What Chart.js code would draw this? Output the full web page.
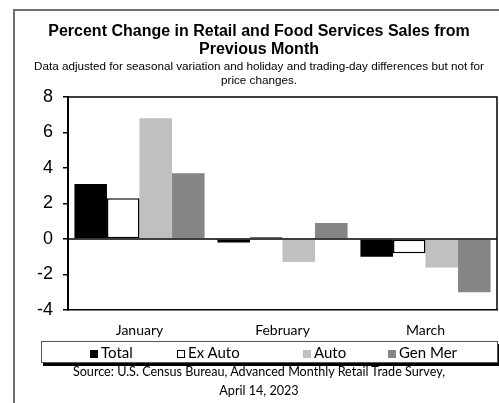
<!DOCTYPE html>
<html>
<head>
<meta charset="utf-8">
<script src="https://cdn.jsdelivr.net/npm/chart.js@4.4.1/dist/chart.umd.min.js"></script>
<style>
  html, body { margin: 0; padding: 0; background: #fff; }
  body { width: 499px; height: 403px; position: relative; overflow: hidden; }
  #frame { position: absolute; left: 13px; top: 9px; width: 500px; height: 400px;
           border-left: 2px solid #707070; border-top: 2px solid #707070; }
  #chartWrap { position: absolute; left: 0; top: 0; width: 499px; height: 403px; }
  .txt { position: absolute; left: 0; width: 518px; text-align: center; white-space: nowrap; color: #000; }
  #title { top: 22px; font: bold 16px "Liberation Sans", Arial, sans-serif; line-height: 18px; }
  #subtitle { top: 59px; font: 11.7px "Liberation Sans", Arial, sans-serif; line-height: 14px; }
  #source { top: 362px; font: 12.6px Lato, sans-serif; line-height: 19px; }
  #legend { position: absolute; left: 41px; top: 341px; width: 455px; height: 20px;
            border: 1px solid #555; box-shadow: 2px 3px 0 #000; background: #fff; }
  .li { position: absolute; top: 0; height: 20px; font: 15px Lato, sans-serif; line-height: 20px; white-space: nowrap; }
  .sw { display: inline-block; width: 8px; height: 8px; margin-right: 3px; vertical-align: 0px; box-sizing: border-box; }
</style>
</head>
<body>
<div id="frame"></div>
<div id="chartWrap"><canvas id="c" width="499" height="403"></canvas></div>
<div id="title" class="txt">Percent Change in Retail and Food Services Sales from<br>Previous Month</div>
<div id="subtitle" class="txt">Data adjusted for seasonal variation and holiday and trading-day differences but not for<br>price changes.</div>
<div id="legend"></div>
<div id="source" class="txt">Source: U.S. Census Bureau, Advanced Monthly Retail Trade Survey,<br>April 14, 2023</div>
<script>
const categories = ['January', 'February', 'March'];
const seriesNames = ['Total', 'Ex Auto', 'Auto', 'Gen Mer'];
const totalValues = [3.1, -0.2, -1.0];
const exAutoValues = [2.3, 0.1, -0.8];
const autoValues = [6.8, -1.3, -1.6];
const genMerValues = [3.7, 0.9, -3.0];
const yTicks = [-4, -2, 0, 2, 4, 6, 8];

const seriesValues = [totalValues, exAutoValues, autoValues, genMerValues];
const fills = ['#000000', '#ffffff', '#c0c0c0', '#858585'];
const borders = [0, 1.5, 0, 0];

const datasets = seriesNames.map((name, i) => ({
  label: name,
  data: seriesValues[i],
  backgroundColor: fills[i],
  borderColor: '#000',
  borderWidth: borders[i],
  borderSkipped: false,
  categoryPercentage: 0.91,
  barPercentage: 1.0
}));

// HTML legend built from series
const legendPos = [90, 177, 303, 388];
const legend = document.getElementById('legend');
seriesNames.forEach((name, i) => {
  const d = document.createElement('div');
  d.className = 'li';
  d.style.left = (legendPos[i] - 42) + 'px';
  const sw = document.createElement('span');
  sw.className = 'sw';
  sw.style.background = fills[i];
  if (borders[i]) sw.style.border = '1.5px solid #000';
  d.appendChild(sw);
  d.appendChild(document.createTextNode(name));
  legend.appendChild(d);
});

const boxPlugin = {
  id: 'box',
  afterDatasetsDraw(chart) {
    const { ctx, chartArea: a, scales } = chart;
    ctx.save();
    ctx.strokeStyle = '#000';
    ctx.lineWidth = 1.5;
    const y0 = scales.y.getPixelForValue(0);
    ctx.beginPath();
    ctx.moveTo(a.left, y0);
    ctx.lineTo(a.right, y0);
    ctx.stroke();
    ctx.beginPath();
    ctx.moveTo(a.left, a.top);
    ctx.lineTo(a.right, a.top);
    ctx.lineTo(a.right, a.bottom);
    ctx.stroke();
    ctx.restore();
  }
};

new Chart(document.getElementById('c'), {
  type: 'bar',
  data: { labels: categories, datasets },
  options: {
    responsive: false,
    animation: false,
    devicePixelRatio: 1,
    layout: { padding: { top: 97, right: 2, left: 0, bottom: 63 } },
    plugins: { legend: { display: false }, title: { display: false }, tooltip: { enabled: false } },
    scales: {
      x: {
        grid: { display: false, drawTicks: false },
        border: { display: true, color: '#000', width: 1.5 },
        ticks: { color: '#000', font: { family: 'Lato', size: 14 }, padding: 12, maxRotation: 0 },
        afterFit(s) { s.height = 30; }
      },
      y: {
        min: -4, max: 8,
        afterBuildTicks(s) { s.ticks = yTicks.map(v => ({ value: v })); },
        grid: { color: 'transparent', tickColor: '#000', tickLength: 5, lineWidth: 1.5, drawOnChartArea: false },
        border: { display: true, color: '#000', width: 2 },
        ticks: { color: '#000', font: { family: 'Liberation Sans', size: 18 }, padding: 10 },
        afterFit(s) { s.width = 68; }
      }
    }
  },
  plugins: [boxPlugin]
});
</script>
</body>
</html>
